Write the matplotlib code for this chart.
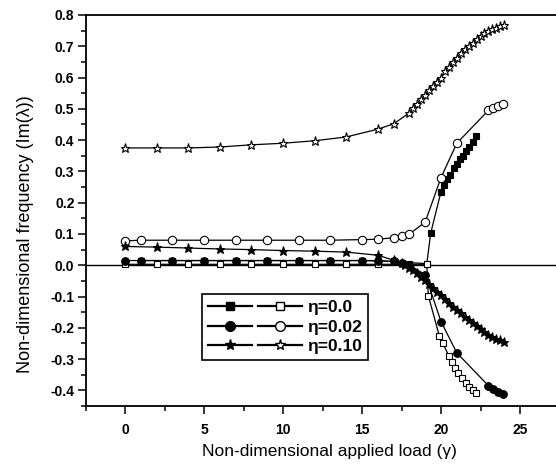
import matplotlib
matplotlib.use('Agg')
import matplotlib.pyplot as plt
from matplotlib.legend_handler import HandlerTuple
from matplotlib.lines import Line2D
from matplotlib.ticker import MultipleLocator, FormatStrFormatter

plt.rcParams['font.family'] = ['Liberation Sans', 'DejaVu Sans']

# ---------------- data ----------------
# eta = 0.0
g_eta0_filled = [1, 3, 5, 7, 9, 11, 13, 15, 17, 19.1, 19.35, 20.0, 20.2, 20.4, 20.6,
                 20.8, 21.0, 21.2, 21.4, 21.6, 21.8, 22.0, 22.2]
v_eta0_filled = [0.015, 0.015, 0.015, 0.015, 0.015, 0.015, 0.015, 0.015, 0.012, 0.005,
                 0.103, 0.235, 0.255, 0.275, 0.29, 0.31, 0.325, 0.34, 0.35, 0.365,
                 0.378, 0.395, 0.412]
g_eta0_open = [0, 2, 4, 6, 8, 10, 12, 14, 16, 18, 19.1, 19.2, 19.9, 20.1, 20.5, 20.7,
               20.9, 21.1, 21.3, 21.6, 21.8, 22.0, 22.2]
v_eta0_open = [0.003, 0.003, 0.003, 0.003, 0.003, 0.003, 0.003, 0.003, 0.003, 0.003,
               0.003, -0.098, -0.227, -0.248, -0.29, -0.31, -0.33, -0.345, -0.36,
               -0.375, -0.39, -0.40, -0.41]

# eta = 0.02
g_eta2 = [0, 1, 3, 5, 7, 9, 11, 13, 15, 16, 17, 17.5, 18, 19, 20, 21, 23, 23.3, 23.6, 23.9]
v_eta2_filled = [0.015, 0.015, 0.015, 0.015, 0.015, 0.015, 0.015, 0.015, 0.015, 0.015,
                 0.012, 0.008, 0.0, -0.03, -0.18, -0.28, -0.385, -0.395, -0.405, -0.412]
v_eta2_open = [0.078, 0.08, 0.08, 0.08, 0.08, 0.08, 0.08, 0.08, 0.082, 0.083,
               0.088, 0.092, 0.10, 0.138, 0.28, 0.39, 0.495, 0.503, 0.51, 0.515]

# eta = 0.10
g_eta10_filled = [0, 2, 4, 6, 8, 10, 12, 14, 16, 17, 17.5, 17.75, 18, 18.25, 18.5, 18.75,
                  19, 19.25, 19.5, 19.75, 20, 20.25, 20.5, 20.75, 21, 21.25, 21.5, 21.75,
                  22, 22.25, 22.5, 22.75, 23, 23.25, 23.5, 23.75, 24]
v_eta10_filled = [0.06, 0.058, 0.055, 0.052, 0.05, 0.047, 0.045, 0.042, 0.032, 0.016,
                  0.008, 0.0, -0.008, -0.016, -0.026, -0.036, -0.047, -0.06, -0.072,
                  -0.084, -0.096, -0.108, -0.12, -0.132, -0.143, -0.153, -0.164, -0.174,
                  -0.184, -0.195, -0.205, -0.214, -0.222, -0.229, -0.235, -0.24, -0.244]
g_eta10_open = [0, 2, 4, 6, 8, 10, 12, 14, 16, 17, 18, 18.25, 18.5, 18.75, 19, 19.25,
                19.5, 19.75, 20, 20.25, 20.5, 20.75, 21, 21.25, 21.5, 21.75, 22, 22.25,
                22.5, 22.75, 23, 23.25, 23.5, 23.75, 24]
v_eta10_open = [0.375, 0.375, 0.375, 0.378, 0.385, 0.39, 0.398, 0.41, 0.435, 0.452,
                0.487, 0.502, 0.517, 0.53, 0.545, 0.56, 0.573, 0.587, 0.60, 0.62, 0.635,
                0.65, 0.664, 0.677, 0.69, 0.70, 0.71, 0.722, 0.732, 0.741, 0.748, 0.754,
                0.759, 0.764, 0.768]

legend_labels = ['\u03b7=0.0', '\u03b7=0.02', '\u03b7=0.10']
x_label = 'Non-dimensional applied load (\u03b3)'
y_label = 'Non-dimensional frequency (Im(\u03bb))'

# ---------------- figure ----------------
fig = plt.figure(figsize=(5.56, 4.68), dpi=100)
ax = fig.add_axes([85.5 / 556, 62 / 468, 474 / 556, 391 / 468])

ax.axhline(0, color='k', lw=1.0, zorder=1)

lw = 0.9
common = dict(color='k', lw=lw, mec='k', mew=0.8, zorder=3)
ax.plot(g_eta0_filled, v_eta0_filled, marker='s', ms=4.5, mfc='k', **common)
ax.plot(g_eta0_open, v_eta0_open, marker='s', ms=4.5, mfc='w', **common)
ax.plot(g_eta2, v_eta2_filled, marker='o', ms=5.5, mfc='k', **common)
ax.plot(g_eta2, v_eta2_open, marker='o', ms=6, mfc='w', **common)
ax.plot(g_eta10_filled, v_eta10_filled, marker='*', ms=6.5, mfc='k', **common)
ax.plot(g_eta10_open, v_eta10_open, marker='*', ms=6.5, mfc='w', **common)

ax.set_xlim(-2.5, 27.5)
ax.set_ylim(-0.45, 0.8)
ax.xaxis.set_major_locator(MultipleLocator(5))
ax.xaxis.set_minor_locator(MultipleLocator(2.5))
ax.yaxis.set_major_locator(MultipleLocator(0.1))
ax.yaxis.set_minor_locator(MultipleLocator(0.05))
ax.yaxis.set_major_formatter(FormatStrFormatter('%.1f'))

ax.tick_params(which='both', direction='out', top=False, right=False, width=1.1)
ax.tick_params(which='major', length=6)
ax.tick_params(which='minor', length=3.5)
ax.tick_params(axis='x', which='major', pad=6)
ax.tick_params(axis='y', which='major', pad=2)
for lab in ax.get_xticklabels() + ax.get_yticklabels():
    lab.set_fontweight('bold')
    lab.set_fontsize(10)

for s in ax.spines.values():
    s.set_linewidth(1.3)

ax.set_xlabel(x_label, fontsize=12.5)
ax.set_ylabel(y_label, fontsize=13)
ax.xaxis.set_label_coords(0.515, -0.098)
ax.yaxis.set_label_coords(-0.108, 0.44)

# legend with paired filled/open handles
def h(marker, face, ms):
    return Line2D([], [], color='k', lw=1.6, marker=marker, mfc=face, mec='k', mew=1.0, ms=ms)

handles = [(h('s', 'k', 6), h('s', 'w', 6)),
           (h('o', 'k', 7), h('o', 'w', 7)),
           (h('*', 'k', 8), h('*', 'w', 8))]
leg = ax.legend(handles, legend_labels,
                handler_map={tuple: HandlerTuple(ndivide=None, pad=0.35)},
                loc='upper left', bbox_to_anchor=(0.246, 0.286),
                frameon=True, fancybox=False, edgecolor='k', framealpha=1,
                prop={'size': 12.5, 'weight': 'bold'}, handlelength=5.4,
                handletextpad=0.3, labelspacing=0.25, borderpad=0.35,
                borderaxespad=0)
leg.get_frame().set_linewidth(1.2)

fig.savefig('out.png', dpi=100)
